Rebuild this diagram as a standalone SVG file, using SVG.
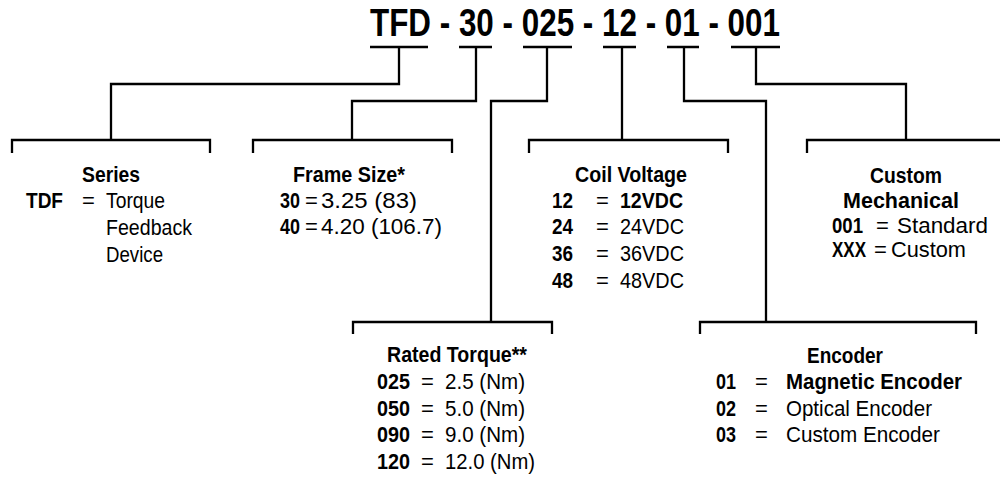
<svg xmlns="http://www.w3.org/2000/svg" width="1000" height="479" viewBox="0 0 1000 479">
<style>
text{font-family:"Liberation Sans",Arial,sans-serif;font-size:22px;fill:#000}
.b{font-weight:bold}
.t{font-weight:bold;font-size:38.5px}
.ln{fill:none;stroke:#000;stroke-width:2.3;stroke-linecap:butt;stroke-linejoin:miter}
</style>
<rect width="1000" height="479" fill="#fff"/>
<g id="title">
<text class="t" x="370" y="36" textLength="410" lengthAdjust="spacingAndGlyphs">TFD - 30 - 025 - 12 - 01 - 001</text>
</g>
<g id="connectors" class="ln">
<path class="ln" d="M370,47H428M399,47V84H111V140"/>
<path class="ln" d="M12,153V140H210V153"/>
<path class="ln" d="M459,47H492M476,47V101H352V140"/>
<path class="ln" d="M253,153V140H452V153"/>
<path class="ln" d="M523,47H572M547,47V101H491V322"/>
<path class="ln" d="M353,334V322H552V334"/>
<path class="ln" d="M603,47H636M622,47V140"/>
<path class="ln" d="M529,153V140H728V153"/>
<path class="ln" d="M667,47H699M684,47V101H766V322"/>
<path class="ln" d="M700,334V322H976V334"/>
<path class="ln" d="M731,47H780M756,47V84H906V140"/>
<path class="ln" d="M807,153V140H1000"/>
</g>
<g id="series">
<text class="b" x="82" y="182" textLength="58" lengthAdjust="spacingAndGlyphs">Series</text>
<text class="b" x="26" y="208" textLength="37" lengthAdjust="spacingAndGlyphs">TDF</text>
<text x="82" y="208">=</text>
<text x="106" y="208" textLength="59" lengthAdjust="spacingAndGlyphs">Torque</text>
<text x="106" y="235" textLength="86" lengthAdjust="spacingAndGlyphs">Feedback</text>
<text x="106" y="262" textLength="57" lengthAdjust="spacingAndGlyphs">Device</text>
</g>
<g id="frame-size">
<text class="b" x="293" y="182" textLength="112" lengthAdjust="spacingAndGlyphs">Frame Size*</text>
<text class="b" x="280" y="208" textLength="20" lengthAdjust="spacingAndGlyphs">30</text>
<text x="305" y="208">=</text>
<text x="321" y="208" textLength="96" lengthAdjust="spacingAndGlyphs">3.25 (83)</text>
<text class="b" x="280" y="234" textLength="20" lengthAdjust="spacingAndGlyphs">40</text>
<text x="305" y="234">=</text>
<text x="321" y="234" textLength="121" lengthAdjust="spacingAndGlyphs">4.20 (106.7)</text>
</g>
<g id="coil-voltage">
<text class="b" x="575" y="182" textLength="112" lengthAdjust="spacingAndGlyphs">Coil Voltage</text>
<text class="b" x="552" y="208" textLength="21" lengthAdjust="spacingAndGlyphs">12</text>
<text x="596" y="208">=</text>
<text class="b" x="620" y="208" textLength="63" lengthAdjust="spacingAndGlyphs">12VDC</text>
<text class="b" x="552" y="234" textLength="21" lengthAdjust="spacingAndGlyphs">24</text>
<text x="596" y="234">=</text>
<text x="620" y="234" textLength="64" lengthAdjust="spacingAndGlyphs">24VDC</text>
<text class="b" x="552" y="261" textLength="21" lengthAdjust="spacingAndGlyphs">36</text>
<text x="596" y="261">=</text>
<text x="620" y="261" textLength="64" lengthAdjust="spacingAndGlyphs">36VDC</text>
<text class="b" x="552" y="288" textLength="21" lengthAdjust="spacingAndGlyphs">48</text>
<text x="596" y="288">=</text>
<text x="620" y="288" textLength="64" lengthAdjust="spacingAndGlyphs">48VDC</text>
</g>
<g id="custom-mechanical">
<text class="b" x="870" y="183" textLength="72" lengthAdjust="spacingAndGlyphs">Custom</text>
<text class="b" x="843" y="208" textLength="116" lengthAdjust="spacingAndGlyphs">Mechanical</text>
<text class="b" x="832" y="233" textLength="31" lengthAdjust="spacingAndGlyphs">001</text>
<text x="876" y="233">=</text>
<text x="897" y="233" textLength="91" lengthAdjust="spacingAndGlyphs">Standard</text>
<text class="b" x="832" y="257" textLength="34" lengthAdjust="spacingAndGlyphs">XXX</text>
<text x="874" y="257">=</text>
<text x="891" y="257" textLength="75" lengthAdjust="spacingAndGlyphs">Custom</text>
</g>
<g id="rated-torque">
<text class="b" x="387" y="362" textLength="140" lengthAdjust="spacingAndGlyphs">Rated Torque**</text>
<text class="b" x="377" y="389" textLength="33" lengthAdjust="spacingAndGlyphs">025</text>
<text x="421" y="389">=</text>
<text x="445" y="389" textLength="80" lengthAdjust="spacingAndGlyphs">2.5 (Nm)</text>
<text class="b" x="377" y="416" textLength="33" lengthAdjust="spacingAndGlyphs">050</text>
<text x="421" y="416">=</text>
<text x="445" y="416" textLength="80" lengthAdjust="spacingAndGlyphs">5.0 (Nm)</text>
<text class="b" x="377" y="442" textLength="33" lengthAdjust="spacingAndGlyphs">090</text>
<text x="421" y="442">=</text>
<text x="445" y="442" textLength="80" lengthAdjust="spacingAndGlyphs">9.0 (Nm)</text>
<text class="b" x="377" y="469" textLength="33" lengthAdjust="spacingAndGlyphs">120</text>
<text x="421" y="469">=</text>
<text x="445" y="469" textLength="90" lengthAdjust="spacingAndGlyphs">12.0 (Nm)</text>
</g>
<g id="encoder">
<text class="b" x="807" y="363" textLength="76" lengthAdjust="spacingAndGlyphs">Encoder</text>
<text class="b" x="716" y="389" textLength="20" lengthAdjust="spacingAndGlyphs">01</text>
<text x="755" y="389">=</text>
<text class="b" x="786" y="389" textLength="176" lengthAdjust="spacingAndGlyphs">Magnetic Encoder</text>
<text class="b" x="716" y="416" textLength="20" lengthAdjust="spacingAndGlyphs">02</text>
<text x="755" y="416">=</text>
<text x="786" y="416" textLength="146" lengthAdjust="spacingAndGlyphs">Optical Encoder</text>
<text class="b" x="716" y="442" textLength="20" lengthAdjust="spacingAndGlyphs">03</text>
<text x="755" y="442">=</text>
<text x="786" y="442" textLength="154" lengthAdjust="spacingAndGlyphs">Custom Encoder</text>
</g>
</svg>
